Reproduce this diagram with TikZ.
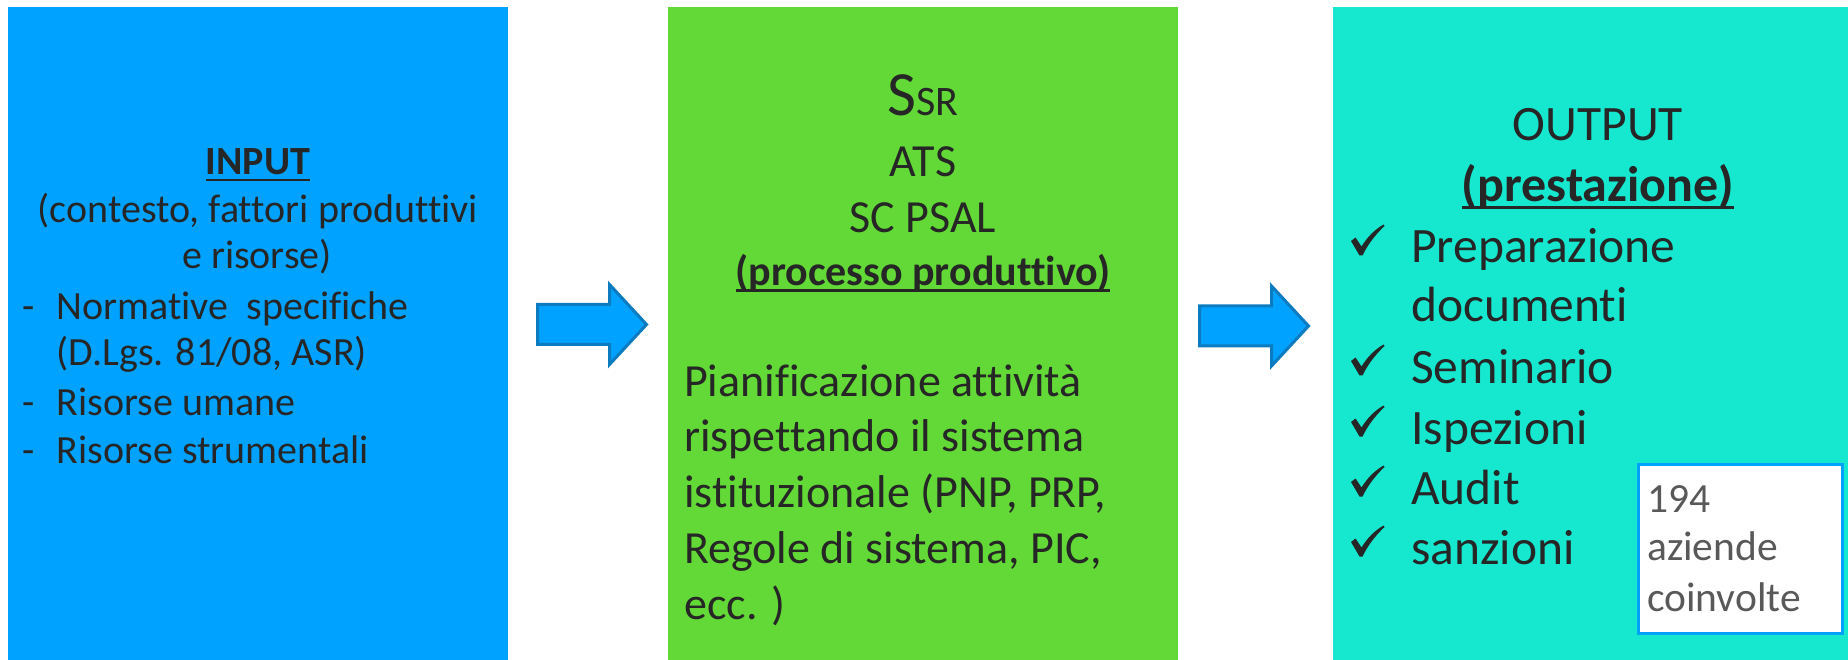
\documentclass[tikz,border=0pt]{standalone}
\usepackage{fontspec}
\setmainfont{Carlito}[Ligatures={NoCommon,NoContextual}]
\definecolor{inblue}{HTML}{00A2FF}
\definecolor{prgreen}{HTML}{62D936}
\definecolor{outteal}{HTML}{16E8D0}
\definecolor{txt}{HTML}{262626}
\definecolor{arrowedge}{HTML}{0C7BC0}
\definecolor{graytxt}{HTML}{595959}
\newcommand\ulbox[3]{\setbox0=\hbox{#1}\rlap{\rule[-#2]{\wd0}{#3}}\box0}
\begin{document}
\begin{tikzpicture}[x=1pt,y=-1pt,
  panel/.style={anchor=north west, inner sep=0, minimum height=653},
  tl/.style={inner sep=0, text=txt, font=\fontsize{40}{48}\selectfont},
  gl/.style={inner sep=0, text=txt, font=\fontsize{46}{56}\selectfont},
  ol/.style={inner sep=0, text=txt, font=\fontsize{49.5}{60}\selectfont},
  sl/.style={inner sep=0, text=graytxt, font=\fontsize{41.5}{50}\selectfont},
  blockarrow/.style={draw=arrowedge, fill=inblue, line width=3, line join=miter},
  checkmk/.pic={\fill[txt] (0,16) -- (4.5,12.5) -- (10.5,21.5) .. controls (17,11) and (24,4.5) .. (32.5,-0.5) -- (33.5,1) .. controls (25,9) and (17,19) .. (11.5,30.5) -- (8.5,30.5) -- cycle;}
]
\useasboundingbox (0,0) rectangle (1848,660);
\fill[white] (0,0) rectangle (1848,660);
% panels
\node[panel, fill=inblue, minimum width=500] (inbox) at (8,7) {};
\node[panel, fill=prgreen, minimum width=510] (procbox) at (668,7) {};
\node[panel, fill=outteal, minimum width=515] (outbox) at (1333,7) {};
% input text
\node[tl, anchor=base] (inT) at (258,175) {\bfseries\ulbox{INPUT}{6.4pt}{2pt}};
\node[tl, anchor=base] (in1) at (258,223) {(contesto, fattori produttivi};
\node[tl, anchor=base] (in2) at (257,269) {e risorse)};
\node[tl, anchor=base west] (d1) at (22,320) {-};
\node[tl, anchor=base west] (in3) at (56.5,320) {Normative\ \ specifiche};
\node[tl, anchor=base west] (in4) at (56.5,366) {(D.Lgs. 81/08, ASR)};
\node[tl, anchor=base west] (d2) at (22,415) {-};
\node[tl, anchor=base west] (in5) at (56.5,415) {Risorse umane};
\node[tl, anchor=base west] (d3) at (22,463) {-};
\node[tl, anchor=base west] (in6) at (56.5,463) {Risorse strumentali};
% process text
\node[gl, anchor=base] (ssr) at (923,116) {{\fontsize{63}{63}\selectfont S}{\fontsize{42}{42}\selectfont SR}};
\node[gl, anchor=base] (ats) at (923,177) {ATS};
\node[gl, anchor=base] (scp) at (923,233) {SC PSAL};
\node[gl, anchor=base, font=\fontsize{42}{50}\selectfont\bfseries] (proc) at (923,286) {\ulbox{(processo produttivo)}{6pt}{2.5pt}};
\node[gl, anchor=base west] (p1) at (684,396) {Pianificazione attività};
\node[gl, anchor=base west] (p2) at (684,451) {rispettando il sistema};
\node[gl, anchor=base west] (p3) at (684,507) {istituzionale (PNP, PRP,};
\node[gl, anchor=base west] (p4) at (684,563) {Regole di sistema, PIC,};
\node[gl, anchor=base west] (p5) at (684,619) {ecc. )};
% output text
\node[ol, anchor=base] (out) at (1598,141) {OUTPUT};
\node[ol, anchor=base, font=\fontsize{50}{60}\selectfont\bfseries] (pre) at (1598,202) {\ulbox{(prestazione)}{7pt}{3pt}};
\node[ol, anchor=base west] (o1) at (1411,263) {Preparazione};
\node[ol, anchor=base west] (o2) at (1411,322) {documenti};
\node[ol, anchor=base west] (o3) at (1411,383) {Seminario};
\node[ol, anchor=base west] (o4) at (1411,444) {Ispezioni};
\node[ol, anchor=base west] (o5) at (1411,504) {Audit};
\node[ol, anchor=base west] (o6) at (1411,564) {sanzioni};
\pic at (1351,225) {checkmk};
\pic at (1351,345) {checkmk};
\pic at (1351,406) {checkmk};
\pic at (1351,466) {checkmk};
\pic at (1351,526) {checkmk};
% small box
\node[draw=inblue, line width=3, fill=white, minimum width=204, minimum height=169, anchor=north west, inner sep=0] (az) at (1636.5,462.5) {};
\node[sl, anchor=base west] (az1) at (1647,512) {194};
\node[sl, anchor=base west] (az2) at (1647,560) {aziende};
\node[sl, anchor=base west] (az3) at (1647,611.5) {coinvolte};
% block arrows
\draw[blockarrow] (537.5,304.5) -- (609.5,304.5) -- (609.5,284.5) -- (646.5,324.5) -- (609.5,364.5) -- (609.5,344.5) -- (537.5,344.5) -- cycle;
\begin{scope}[shift={(662,1.5)}]
\draw[blockarrow] (537.5,304.5) -- (609.5,304.5) -- (609.5,284.5) -- (646.5,324.5) -- (609.5,364.5) -- (609.5,344.5) -- (537.5,344.5) -- cycle;
\end{scope}
\end{tikzpicture}
\end{document}
